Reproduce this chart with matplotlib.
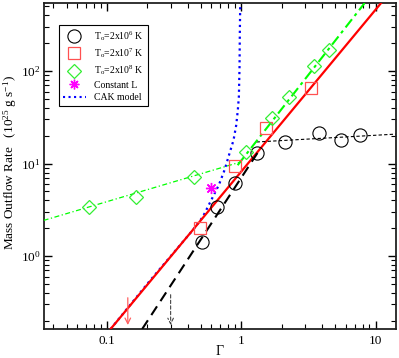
import numpy as np
import matplotlib
matplotlib.use('Agg')
import matplotlib.pyplot as plt
from matplotlib.lines import Line2D

plt.rcParams['font.family'] = ['Liberation Serif', 'DejaVu Serif']
plt.rcParams['mathtext.fontset'] = 'custom'
plt.rcParams['mathtext.rm'] = 'Liberation Serif'
plt.rcParams['mathtext.it'] = 'Liberation Serif:italic'

# T_o = 2x10^6 K
g_6 = [0.513, 0.655, 0.892, 1.31, 2.10, 3.80, 5.55, 7.69]
m_6 = [1.41, 3.36, 6.23, 12.9, 16.9, 21.2, 18.1, 20.2]
# T_o = 2x10^7 K
g_7 = [0.495, 0.892, 1.54, 3.32]
m_7 = [2.02, 9.47, 24.5, 66.3]
# T_o = 2x10^8 K
g_8 = [0.0734, 0.165, 0.443, 1.08, 1.70, 2.28, 3.49, 4.54]
m_8 = [3.41, 4.31, 7.09, 13.3, 31.2, 52.7, 112.0, 167.0]
# constant L
g_L = [0.598]
m_L = [5.39]
# CAK model curve
g_cak = [0.1065, 0.2077, 0.436, 0.518, 0.598, 0.681, 0.751, 0.818, 0.876,
         0.918, 0.943, 0.960, 0.971, 0.976, 0.983]
m_cak = [0.163, 0.537, 1.91, 2.66, 4.03, 5.86, 8.51, 12.9, 17.9,
         26.1, 37.9, 52.7, 110.0, 258.0, 543.0]

# fit lines (end points)
g_fit7 = [0.1065, 11.0]
m_fit7 = [0.163, 543.0]
g_fit6 = [0.183, 1.32]
m_fit6 = [0.163, 13.0]
g_flat6 = [1.30, 14.1]
m_flat6 = [17.1, 20.8]
g_low8 = [0.0338, 0.99]
m_low8 = [2.43, 10.4]
g_high8 = [0.94, 8.3]
m_high8 = [9.6, 543.0]

# arrows: gamma, top, bottom
arr_red = (0.143, 0.38, 0.168)
arr_blk = (0.298, 0.41, 0.168)

fig = plt.figure(figsize=(3.99, 3.58), dpi=100)
ax = fig.add_axes([0.1103, 0.081, 0.8822, 0.9106])
ax.set_xscale('log')
ax.set_yscale('log')
ax.set_xlim(0.034, 14.2)
ax.set_ylim(0.163, 543)

# lines
ax.plot(g_cak, m_cak, ':', color='#0000ff', lw=1.6, zorder=2)
ax.plot(g_fit7, m_fit7, '-', color='#ff0000', lw=1.6, zorder=3)
ax.plot(g_fit6, m_fit6, '--', color='black', lw=1.5, dashes=(5, 3), zorder=3)
ax.plot(g_flat6, m_flat6, '--', color='black', lw=0.8, dashes=(3, 2), zorder=3)
ax.plot(g_low8, m_low8, '-.', color='#00ff00', lw=0.9, dashes=(4, 2, 1, 2), zorder=3)
ax.plot(g_high8, m_high8, '-.', color='#00ff00', lw=1.5, dashes=(5, 2, 1.5, 2), zorder=3)

# symbols
ax.plot(g_6, m_6, 'o', ms=9.5, mfc='none', mec='black', mew=0.8, zorder=4)
ax.plot(g_7, m_7, 's', ms=8.5, mfc='none', mec='#ff5050', mew=0.9, zorder=4)
ax.plot(g_8, m_8, 'D', ms=7.5, mfc='none', mec='#33ee33', mew=0.9, zorder=4)
ax.plot(g_L, m_L, marker=(8, 2, 0), ms=8, color='#ff00ff', mew=1.0, ls='none', zorder=4)

# arrows
ax.annotate('', xy=(arr_red[0], arr_red[2]), xytext=(arr_red[0], arr_red[1]),
            arrowprops=dict(arrowstyle='->', color='#ff6060', lw=0.9,
                            mutation_scale=10))
ax.annotate('', xy=(arr_blk[0], arr_blk[2]), xytext=(arr_blk[0], arr_blk[1]),
            arrowprops=dict(arrowstyle='->', color='#444444', lw=0.8,
                            linestyle=(0, (3, 2)), mutation_scale=10))

# axes styling
ax.set_xticks([0.1, 1, 10])
ax.set_xticklabels(['0.1', '1', '10'])
ax.tick_params(which='both', direction='in', top=True, right=True, labelsize=9.5)
ax.tick_params(which='major', length=6, width=1.0)
ax.tick_params(which='minor', length=3.5, width=0.8)
ax.tick_params(axis='x', pad=4.5)
ax.tick_params(axis='y', pad=2.5)
for s in ax.spines.values():
    s.set_linewidth(1.3)
    s.set_color('#222222')

ax.set_xlabel(r'$\Gamma$', fontsize=10)
ax.xaxis.set_label_coords(0.5, -0.046)
ax.set_ylabel(r'Mass Outflow Rate   (10$^{25}$ g s$^{-1}$)', fontsize=9.5)
ax.yaxis.set_label_coords(-0.071, 0.511)

handles = [
    Line2D([], [], ls='none', marker='o', ms=9.5, mfc='none', mec='black', mew=0.8),
    Line2D([], [], ls='none', marker='s', ms=8.5, mfc='none', mec='#ff5050', mew=0.9),
    Line2D([], [], ls='none', marker='D', ms=7.5, mfc='none', mec='#33ee33', mew=0.9),
    Line2D([], [], ls='none', marker=(8, 2, 0), ms=7, color='#ff00ff', mew=1.0),
    Line2D([], [], ls=':', color='#0000ff', lw=1.5),
]
labels = [r'T$_{\rm o}$=2x10$^{6}$ K', r'T$_{\rm o}$=2x10$^{7}$ K',
          r'T$_{\rm o}$=2x10$^{8}$ K', 'Constant L', 'CAK model']
leg = ax.legend(handles, labels, loc='upper left', bbox_to_anchor=(0.0435, 0.9325),
                borderaxespad=0, fontsize=7, fancybox=False, framealpha=1,
                edgecolor='black', handlelength=2.3, handletextpad=0.9,
                labelspacing=0.35, borderpad=0.4)
leg.get_frame().set_linewidth(0.8)

fig.savefig('out.png', dpi=100)
